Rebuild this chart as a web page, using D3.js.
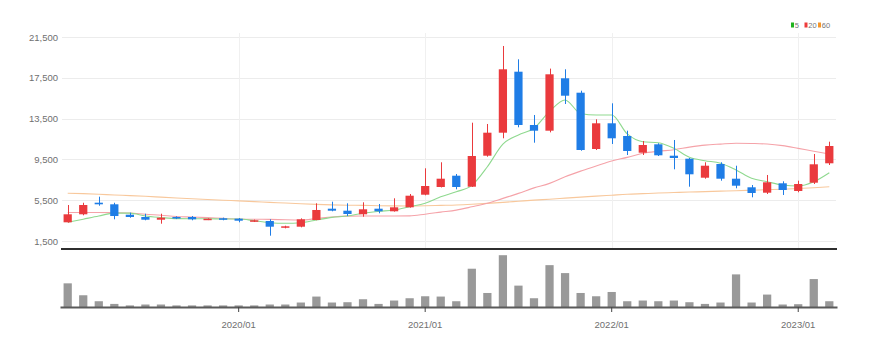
<!DOCTYPE html>
<html>
<head>
<meta charset="utf-8">
<script src="https://cdn.jsdelivr.net/npm/d3@7/dist/d3.min.js"></script>
<style>
  body { margin: 0; background: #fff; }
  .axisText { font-family: "Liberation Sans Narrow", "Arial Narrow", sans-serif; font-size: 9.5px; fill: #6f6f6f; }
  .legendText { font-family: "Liberation Sans Narrow", "Arial Narrow", sans-serif; font-size: 7.5px; fill: #777; }
</style>
</head>
<body>
<div id="chart"></div>
<script>
// monthly candles, 2019/02 .. 2023/03
var months = ["2019/02","2019/03","2019/04","2019/05","2019/06","2019/07","2019/08","2019/09","2019/10","2019/11","2019/12",
  "2020/01","2020/02","2020/03","2020/04","2020/05","2020/06","2020/07","2020/08","2020/09","2020/10","2020/11","2020/12",
  "2021/01","2021/02","2021/03","2021/04","2021/05","2021/06","2021/07","2021/08","2021/09","2021/10","2021/11","2021/12",
  "2022/01","2022/02","2022/03","2022/04","2022/05","2022/06","2022/07","2022/08","2022/09","2022/10","2022/11","2022/12",
  "2023/01","2023/02","2023/03"];

var opens  = [3333,4118,5255,5098,4078,3853,3588,3853,3853,3588,3725,3686,3392,3461,2804,2902,3559,4667,4471,4118,4667,4412,4804,
  6039,6794,7902,6824,9863,12118,18098,12873,12314,17451,16039,10520,13039,11794,10157,10980,9863,9569,7706,9049,7608,6765,6235,7157,6402,7216,9118];
var highs  = [5029,5250,5843,5250,4275,4176,4176,3920,3950,3720,3790,3750,3600,3627,3000,3720,5196,5353,5196,5294,5127,5686,6108,
  8627,9216,8069,13098,12971,20618,19314,13853,18400,18334,16235,13431,15000,12314,11304,11078,11402,9637,9216,9216,8882,6990,7971,7353,7412,10030,11235];
var lows   = [3300,4020,4960,3627,3784,3530,3196,3650,3530,3550,3530,3333,3360,2020,2740,2840,3530,4412,3951,3882,4216,4380,4770,
  5980,6750,6569,6794,9765,11569,12647,11137,12150,14931,10350,10420,11010,9931,9931,9833,8529,6824,7608,7412,6667,5784,6108,6010,6275,7088,8951];
var closes = [4118,5029,5098,3950,3853,3588,3784,3725,3627,3686,3588,3490,3529,2902,2941,3627,4540,4471,4147,4608,4412,4804,5941,
  6892,7608,6794,9833,12118,18334,12873,12314,17843,15745,10422,13039,11569,10324,10912,9902,9637,8039,8882,7608,6922,6206,7255,6500,7088,9020,10814];

var ma5  = [3330,3640,3950,4230,4230,3950,3800,3690,3686,3686,3650,3650,3490,3294,3235,3294,3560,3820,3950,4220,4400,4540,4860,
  5200,5840,6330,6950,8780,11000,11900,12550,14200,15330,14000,13850,13850,12000,11235,11137,10588,9706,9373,9118,8461,7647,7314,6990,6892,7314,8196];
var ma20 = [4300,4300,4300,4280,4250,4120,4020,3900,3850,3790,3720,3660,3630,3620,3580,3560,3700,3860,3940,3950,3950,3950,3960,
  4130,4330,4530,4850,5200,5680,6170,6710,7150,7800,8350,8850,9350,9700,10100,10300,10450,10700,10900,11000,11080,11060,11010,10850,10580,10300,10030];
var ma60 = [6180,6140,6080,6010,5950,5880,5800,5720,5640,5570,5500,5430,5360,5290,5220,5150,5090,5040,5010,4990,4960,4940,4930,
  4950,4990,5030,5100,5190,5290,5400,5510,5600,5700,5800,5900,5990,6080,6140,6200,6250,6300,6340,6390,6430,6480,6530,6580,6640,6720,6820];

var volumes = [2300,1100,500,230,80,170,170,80,80,80,80,80,80,170,170,370,970,370,400,700,230,570,800,
  1000,970,500,3770,1330,5130,2070,800,4130,3330,1330,1000,1430,500,570,500,570,400,230,370,3200,370,1170,170,200,2730,500];

var priceTicks = [1500,5500,9500,13500,17500,21500];
var yearTicks = ["2020/01","2021/01","2022/01","2023/01"];
var legendItems = ["5","20","60"];

var maColors = ["#8fd98f","#f5a3a9","#f8c89c"];
var legendColors = ["#1fb31f","#ee3b3b","#f5962a"];
var upColor = "#ea3a3d", downColor = "#1f7de6";

var W = 873, H = 346;
var left = 60, right = 837;

var svg = d3.select("#chart").append("svg")
  .attr("width", W)
  .attr("height", H);

var x = d3.scaleBand().domain(months).range([left, right]).paddingInner(0.47).paddingOuter(0.23);
var cx = function(m){ return x(m) + x.bandwidth()/2; };
var y = d3.scaleLinear().domain([1500, 21500]).range([241, 37]);
var yv = d3.scaleLinear().domain([0, 5130]).range([307, 256]);

// grid
svg.append("g").selectAll("line")
  .data(priceTicks)
  .enter().append("line")
  .attr("x1", left + 2).attr("x2", right - 1)
  .attr("y1", function(d){ return Math.round(y(d)) + 0.5; })
  .attr("y2", function(d){ return Math.round(y(d)) + 0.5; })
  .style("stroke", "#ececec");

svg.append("g").selectAll("line")
  .data(yearTicks)
  .enter().append("line")
  .attr("x1", function(d){ return Math.round(cx(d)) + 0.5; })
  .attr("x2", function(d){ return Math.round(cx(d)) + 0.5; })
  .attr("y1", 33).attr("y2", 248)
  .style("stroke", "#f0f0f0");

// y labels
svg.append("g").selectAll("text")
  .data(priceTicks)
  .enter().append("text")
  .attr("class", "axisText")
  .attr("x", 58)
  .attr("y", function(d){ return y(d) + 3.5; })
  .attr("text-anchor", "end")
  .text(function(d){ return d3.format(",")(d); });

// moving averages
var maSets = [ma5, ma20, ma60];
var line = d3.line()
  .x(function(d, i){ return cx(months[i]); })
  .y(function(d){ return y(d); })
  .curve(d3.curveMonotoneX);

svg.append("g").selectAll("path")
  .data(maSets.slice().reverse())
  .enter().append("path")
  .attr("d", function(d){ return line(d); })
  .style("fill", "none")
  .style("stroke", function(d, i){ return maColors[2 - i]; })
  .style("stroke-width", 1.1);

// candles
var candles = svg.append("g").selectAll("g")
  .data(months)
  .enter().append("g");

candles.append("line")
  .attr("x1", function(d){ return Math.round(cx(d)) + 0.5; })
  .attr("x2", function(d){ return Math.round(cx(d)) + 0.5; })
  .attr("y1", function(d, i){ return y(highs[i]); })
  .attr("y2", function(d, i){ return y(lows[i]); })
  .style("stroke", function(d, i){ return closes[i] >= opens[i] ? upColor : downColor; })
  .style("stroke-width", 1);

candles.append("rect")
  .attr("x", function(d){ return x(d); })
  .attr("width", x.bandwidth())
  .attr("y", function(d, i){ return y(Math.max(opens[i], closes[i])); })
  .attr("height", function(d, i){ return Math.max(1.5, Math.abs(y(opens[i]) - y(closes[i]))); })
  .style("fill", function(d, i){ return closes[i] >= opens[i] ? upColor : downColor; });

// frame line under price panel
svg.append("line")
  .attr("x1", left + 1).attr("x2", right)
  .attr("y1", 249).attr("y2", 249)
  .style("stroke", "#2e2e2e")
  .style("stroke-width", 2);

// volume
svg.append("g").selectAll("rect")
  .data(volumes)
  .enter().append("rect")
  .attr("x", function(d, i){ return x(months[i]); })
  .attr("width", x.bandwidth())
  .attr("y", function(d){ return yv(d) - 0.8; })
  .attr("height", function(d){ return 307 - yv(d) + 0.8; })
  .style("fill", "#999");

var xAxis = svg.append("g")
  .attr("transform", "translate(0,307)")
  .call(d3.axisBottom(x).tickValues(yearTicks).tickSize(5).tickSizeOuter(0));
xAxis.select(".domain").style("stroke", "#5a5a5a").style("stroke-width", 2);
xAxis.selectAll(".tick line").style("stroke", "#444");
xAxis.selectAll(".tick text")
  .attr("class", "axisText")
  .attr("y", 14)
  .attr("font-size", null)
  .attr("font-family", null);
xAxis.attr("font-size", null).attr("font-family", null);

// legend
var lg = svg.append("g").attr("transform", "translate(791,22)");
var lgPos = [0, 13.5, 27];
lg.selectAll("rect")
  .data(legendItems)
  .enter().append("rect")
  .attr("x", function(d, i){ return lgPos[i]; })
  .attr("y", 0.5)
  .attr("width", 3)
  .attr("height", 5)
  .style("fill", function(d, i){ return legendColors[i]; });
lg.selectAll("text")
  .data(legendItems)
  .enter().append("text")
  .attr("class", "legendText")
  .attr("x", function(d, i){ return lgPos[i] + 3.8; })
  .attr("y", 5.6)
  .text(function(d){ return d; });
</script>
</body>
</html>
